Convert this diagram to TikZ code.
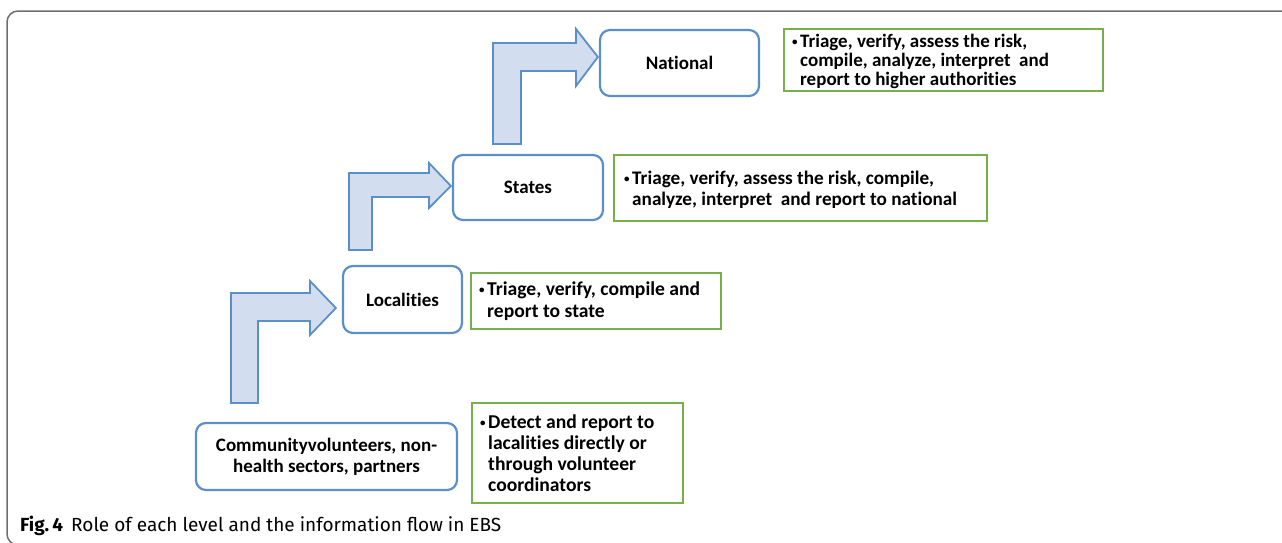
\documentclass[tikz,border=0pt]{standalone}
\usepackage{fontspec}
\setmainfont{Carlito}[Ligatures={NoCommon}]
\newfontfamily\capfont{Fira Sans}
\definecolor{boxblue}{HTML}{5B8FC8}
\definecolor{arrowfill}{HTML}{D2DDEF}
\definecolor{boxgreen}{HTML}{77B04A}
\definecolor{framegray}{HTML}{6E6E6E}
\newcommand{\smallbul}{\makebox[8pt][l]{\raisebox{2.6pt}{\fontsize{11}{11}\selectfont\textbullet}}}
\newcommand{\rolelines}[1]{\begin{tabular}{@{}l@{}l@{}}#1\end{tabular}}
\begin{document}
\begin{tikzpicture}[x=1pt,y=-1pt,
  level/.style={draw=boxblue,line width=2.2pt,rounded corners=10pt,fill=white,
    font=\bfseries\fontsize{19}{21}\selectfont,align=center,inner sep=0pt},
  rolebox/.style={draw=boxgreen,line width=2pt,inner sep=0pt},
  roletext/.style={anchor=west,inner sep=0pt,align=left,yshift=-3pt},
  flow/.style={draw=boxblue,line width=1.8pt,fill=arrowfill,line join=miter}]
\useasboundingbox (0,0) rectangle (1282,542);
% outer frame
\draw[framegray,line width=1.5pt,rounded corners=11pt] (7,11) rectangle (1300,545);

% level boxes
\node[level,minimum width=159pt,minimum height=66pt] (nat) at (679.5,63) {National};
\node[level,minimum width=150pt,minimum height=65pt] (sta) at (528,187.5) {States};
\node[level,minimum width=119pt,minimum height=67pt] (loc) at (402.5,299.5) {Localities};
\node[level,minimum width=261pt,minimum height=67pt] (com) at (326.5,456.5)
  {Communityvolunteers, non-\\health sectors, partners};

% role boxes
\node[rolebox,minimum width=319pt,minimum height=62pt] (natr) at (943.5,60) {};
\node[rolebox,minimum width=373pt,minimum height=66pt] (star) at (800.5,188) {};
\node[rolebox,minimum width=250pt,minimum height=56pt] (locr) at (596,301) {};
\node[rolebox,minimum width=211pt,minimum height=100pt] (comr) at (577.5,453) {};

\node[roletext,font=\bfseries\fontsize{19}{19}\selectfont] (natt) at ([xshift=9pt]natr.west)
  {\rolelines{\smallbul & Triage, verify, assess the risk,\\ & compile, analyze, interpret\ \ and\\ & report to higher authorities}};
\node[roletext,font=\bfseries\fontsize{19.2}{21}\selectfont] (stat) at ([xshift=11pt]star.west)
  {\rolelines{\smallbul & Triage, verify, assess the risk, compile,\\ & analyze, interpret\ \ and report to national}};
\node[roletext,font=\bfseries\fontsize{19.6}{22}\selectfont,yshift=1.5pt] (loct) at ([xshift=9pt]locr.west)
  {\rolelines{\smallbul & Triage, verify, compile and\\ & report to state}};
\node[roletext,font=\bfseries\fontsize{19.6}{21}\selectfont] (comt) at ([xshift=9pt]comr.west)
  {\rolelines{\smallbul & Detect and report to\\ & lacalities directly or\\ & through volunteer\\ & coordinators}};

% bent arrows
\draw[flow] (231,403) -- (231,293) -- (310,293) -- (310,281) -- ([xshift=-6pt]loc.west |- 0,308)
  -- (310,335) -- (310,321) -- (258,321) -- (258,403) -- cycle;
\draw[flow] (349,250) -- (349,173) -- (429,173) -- (429,163) -- ([xshift=-1pt]sta.west |- 0,186)
  -- (429,208) -- (429,197) -- (372,197) -- (372,250) -- cycle;
\draw[flow] (493,144) -- (493,43) -- (576,43) -- (576,29) -- ([xshift=-1pt]nat.west |- 0,57)
  -- (576,86) -- (576,71) -- (521,71) -- (521,144) -- cycle;

% caption
\node[anchor=base west,inner sep=0pt,font=\capfont\fontsize{19}{22}\selectfont] (cap) at (20,531)
  {\textbf{Fig.\,4}\hspace{8pt}Role of each level and the information flow in EBS};
\end{tikzpicture}
\end{document}
